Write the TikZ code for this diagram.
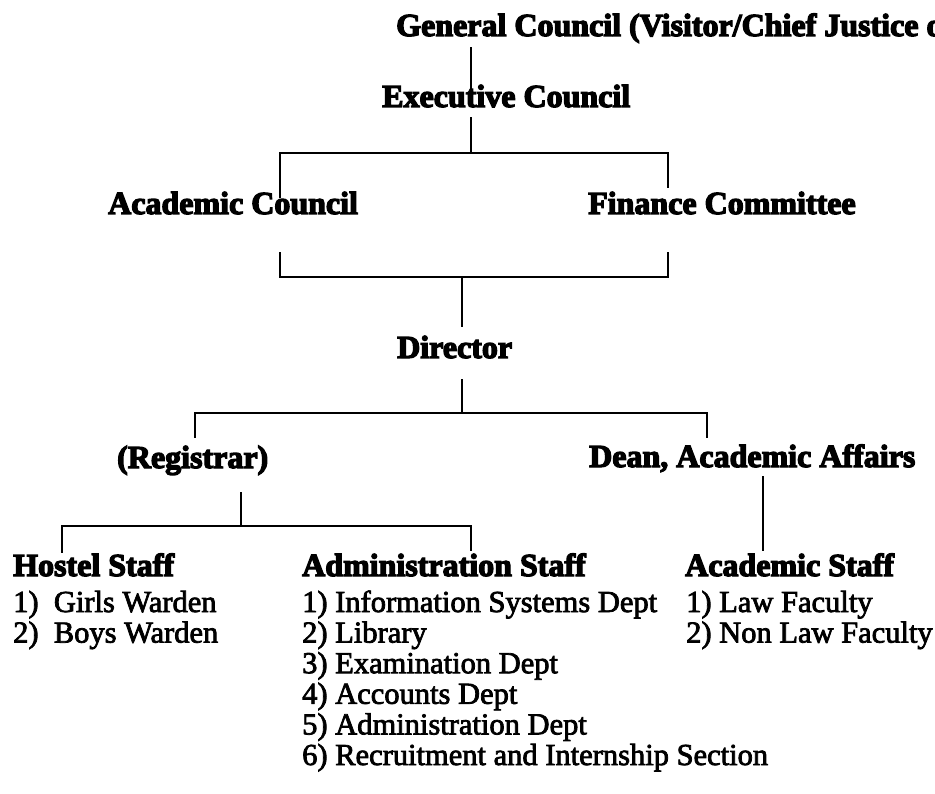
\documentclass[tikz,border=0pt]{standalone}
\usepackage{fontspec}
\setmainfont{Liberation Serif}
\newfontfamily\hdfont{Liberation Serif Bold}[FakeBold=4]
\newfontfamily\itfont{Liberation Serif}[FakeBold=2.5]
\tikzset{
  hd/.style={anchor=base west, inner sep=0pt, font=\hdfont\fontsize{32}{32}\selectfont},
  listtxt/.style={anchor=base west, inner sep=0pt, font=\itfont\fontsize{30.5}{30.6}\selectfont},
  conn/.style={line width=1.8pt, line cap=rect}
}
\begin{document}
\begin{tikzpicture}[x=1pt,y=-1pt]
\useasboundingbox (0,0) rectangle (935,794);
\clip (0,0) rectangle (935,794);
\fill[white] (0,0) rectangle (935,794);

% headings
\node[hd] (gc) at (396,36) {General Council (Visitor/Chief Justice o};
\node[hd] (ec) at (382,107) {Executive Council};
\node[hd] (ac) at (108,214) {Academic Council};
\node[hd] (fc) at (588,214) {Finance Committee};
\node[hd] (dir) at (397,358) {Director};
\node[hd] (reg) at (117,468) {(Registrar)};
\node[hd] (dean) at (589,467) {Dean, Academic Affairs};
\node[hd] (hs) at (13,576) {Hostel Staff};
\node[hd] (as) at (302,576) {Administration Staff};
\node[hd] (acs) at (685,576) {Academic Staff};

% lists
\node[listtxt] (hs1) at (13,612) {1)\ \ Girls Warden};
\node[listtxt] (hs2) at (13,642.6) {2)\ \ Boys Warden};
\node[listtxt] (as1) at (302,612) {1) Information Systems Dept};
\node[listtxt] (as2) at (302,642.6) {2) Library};
\node[listtxt] (as3) at (302,673.2) {3) Examination Dept};
\node[listtxt] (as4) at (302,703.8) {4) Accounts Dept};
\node[listtxt] (as5) at (302,734.4) {5) Administration Dept};
\node[listtxt] (as6) at (302,765) {6) Recruitment and Internship Section};
\node[listtxt] (acs1) at (686,612) {1) Law Faculty};
\node[listtxt] (acs2) at (686,642.6) {2) Non Law Faculty};

% junction coordinates
\coordinate (gcB) at (471,48);
\coordinate (ecT) at (471,97);
\coordinate (ecB) at (471,118);
\coordinate (j1) at (471,153);
\coordinate (j1L) at (280,153);
\coordinate (j1R) at (668,153);
\coordinate (acT) at (280,197);
\coordinate (fcT) at (668,187);
\coordinate (acB) at (280,253);
\coordinate (fcB) at (668,253);
\coordinate (j2L) at (280,277);
\coordinate (j2R) at (668,277);
\coordinate (j2) at (462,277);
\coordinate (dirT) at (462,326);
\coordinate (dirB) at (462,380);
\coordinate (j3) at (462,413);
\coordinate (j3L) at (195,413);
\coordinate (j3R) at (707,413);
\coordinate (regT) at (195,437);
\coordinate (deanT) at (707,437);
\coordinate (regB) at (241,493);
\coordinate (j4) at (241,526);
\coordinate (j4L) at (62,526);
\coordinate (j4R) at (471,526);
\coordinate (hsT) at (62,552);
\coordinate (asT) at (471,550);
\coordinate (deanB) at (763,477);
\coordinate (acsT) at (763,550);

% connectors
\draw[conn] (gcB) -- (ecT);
\draw[conn] (ecB) -- (j1);
\draw[conn] (acT) -- (j1L) -- (j1R) -- (fcT);
\draw[conn] (acB) -- (j2L) -- (j2R) -- (fcB);
\draw[conn] (j2) -- (dirT);
\draw[conn] (dirB) -- (j3);
\draw[conn] (regT) -- (j3L) -- (j3R) -- (deanT);
\draw[conn] (regB) -- (j4);
\draw[conn] (hsT) -- (j4L) -- (j4R) -- (asT);
\draw[conn] (deanB) -- (acsT);
\end{tikzpicture}
\end{document}
